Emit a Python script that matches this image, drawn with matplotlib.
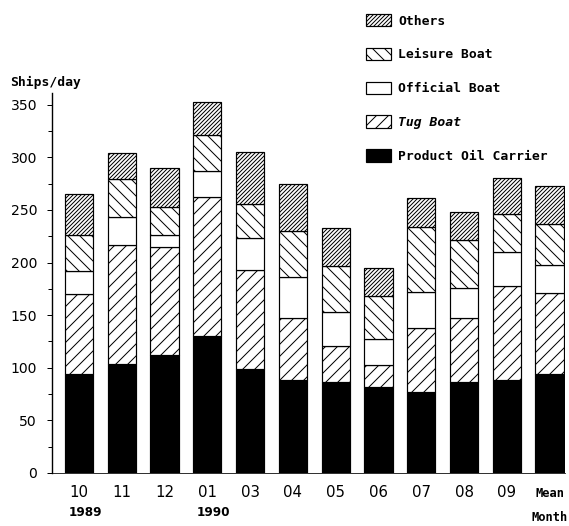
"""Daily ship traffic by vessel type, Oct 1989 - Sep 1990."""

import matplotlib

matplotlib.use("Agg")

import matplotlib.pyplot as plt
import numpy as np
from matplotlib.transforms import blended_transform_factory

months = ["10", "11", "12", "01", "03", "04", "05", "06", "07", "08", "09", "Mean"]
years = {"10": "1989", "01": "1990"}

# ships/day per category
oil_carrier = [94, 104, 112, 130, 99, 88, 86, 82, 77, 86, 88, 94]
tug_boat = [76, 113, 103, 132, 94, 59, 35, 21, 61, 61, 90, 77]
official_boat = [22, 26, 11, 25, 30, 39, 32, 24, 34, 29, 32, 27]
leisure_boat = [34, 36, 27, 34, 33, 44, 44, 41, 62, 45, 36, 39]
others = [39, 25, 37, 32, 49, 45, 36, 27, 27, 27, 34, 36]

series = [
    ("Product Oil Carrier", oil_carrier, "black", ""),
    ("Tug Boat", tug_boat, "white", "//"),
    ("Official Boat", official_boat, "white", ""),
    ("Leisure Boat", leisure_boat, "white", "\\\\"),
    ("Others", others, "white", "//////"),
]

DPI = 72
plt.rcParams["hatch.linewidth"] = 1.0
SANS = ["DejaVu Sans"]
MONO = ["DejaVu Sans Mono"]

fig = plt.figure(figsize=(569 / DPI, 526 / DPI), dpi=DPI)
ax = fig.add_axes([0.0914, 0.1008, 0.9016, 0.7222])

x = np.arange(len(months))
bottom = np.zeros(len(months))
handles = {}
for name, vals, color, hatch in series:
    vals = np.asarray(vals, dtype=float)
    bars = ax.bar(x, vals, width=0.66, bottom=bottom, color=color, hatch=hatch,
                  edgecolor="black", linewidth=1.2)
    handles[name] = bars
    bottom += vals

ax.set_xlim(-0.63, 11.36)
ax.set_ylim(0, 361)

ax.spines["top"].set_visible(False)
ax.spines["right"].set_visible(False)
ax.spines["left"].set_linewidth(1.4)
ax.spines["bottom"].set_linewidth(0.8)

ax.set_yticks(np.arange(0, 351, 50))
ax.set_yticks(np.arange(25, 351, 50), minor=True)
ax.tick_params(axis="y", which="major", length=5, width=1.0, direction="out", pad=10)
ax.tick_params(axis="y", which="minor", length=4, width=1.0, direction="out")
for lab in ax.get_yticklabels():
    lab.set_family(SANS)
    lab.set_fontsize(14)

ax.set_xticks(x[:-1])
ax.set_xticklabels(months[:-1], family=SANS, fontsize=15)
ax.tick_params(axis="x", length=0, pad=12)

trans = blended_transform_factory(ax.transData, ax.transAxes)
ax.text(x[-1], -0.053, "Mean", transform=trans, ha="center", va="center",
        family=MONO, fontweight="bold", fontsize=12)
ax.text(x[-1], -0.116, "Month", transform=trans, ha="center", va="center",
        family=MONO, fontweight="bold", fontsize=12)
for i, m in enumerate(months):
    if m in years:
        ax.text(x[i] + 0.15, -0.105, years[m], transform=trans, ha="center",
                va="center", family=SANS, fontweight="bold", fontsize=12)

fig.text(10 / 569, 1 - 82 / 526, "Ships/day", ha="left", va="center",
         family=MONO, fontweight="bold", fontsize=13)

order = ["Others", "Leisure Boat", "Official Boat", "Tug Boat", "Product Oil Carrier"]
leg = fig.legend([handles[n] for n in order], order, loc="upper left",
                 bbox_to_anchor=(366 / 569, 1 - 14 / 526), frameon=False,
                 prop={"family": MONO, "weight": "bold", "size": 13},
                 handlelength=1.9, handleheight=1.1, handletextpad=0.6,
                 labelspacing=1.55, borderaxespad=0, borderpad=0)
for t in leg.get_texts():
    if t.get_text() == "Tug Boat":
        t.set_style("italic")

fig.savefig("out.png", dpi=DPI)
